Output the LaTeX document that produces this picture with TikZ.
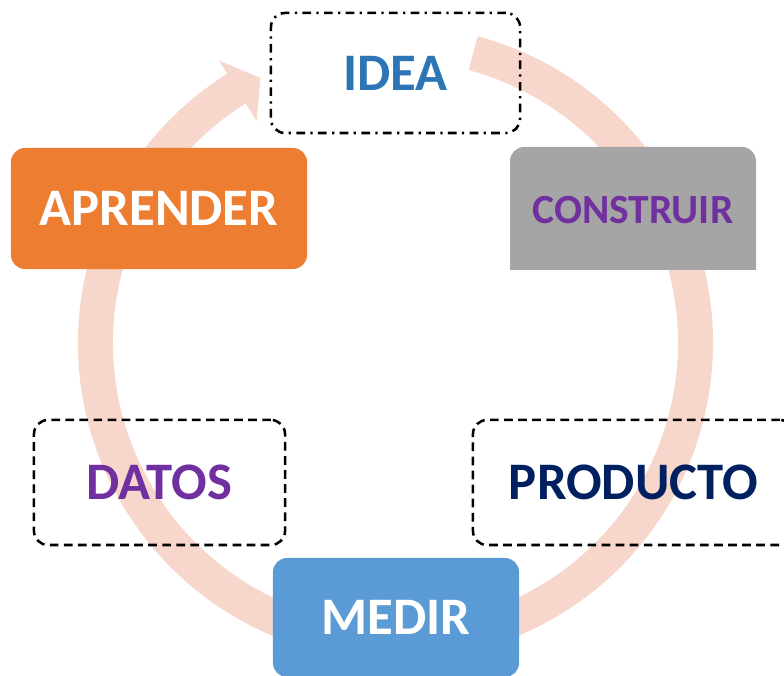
\documentclass[tikz,border=0pt]{standalone}
\usepackage{fontspec}
\setmainfont{Carlito}
\usepackage{xcolor}
\usepackage{tikz}
\usetikzlibrary{arrows}

\definecolor{ringpink}{HTML}{F7D7CC}
\definecolor{orangebox}{HTML}{ED7D31}
\definecolor{graybox}{HTML}{A5A5A5}
\definecolor{bluebox}{HTML}{5B9BD5}
\definecolor{ideablue}{HTML}{2E75B6}
\definecolor{purpletext}{HTML}{7030A0}
\definecolor{navytext}{HTML}{002060}

\begin{document}
\begin{tikzpicture}[x=0.025cm, y=0.025cm]
\tikzstyle{word} = [font=\bfseries\fontsize{37.5}{40}\selectfont, inner sep=0pt]
\tikzstyle{box} = [word, rounded corners=10pt, line width=1.8pt]
\tikzstyle{dashbox} = [box, draw=black, dash pattern=on 6.2pt off 3.8pt]
\useasboundingbox (0,0) rectangle (784,676);
\clip (0,0) rectangle (784,676);
% cycle arrow
\begin{scope}[shift={(395.5,333)}]
\fill[ringpink] (75:317.5) arc[start angle=75, end angle=-238, radius=317.5]
  -- (122:333) -- (117:297.5) -- (122:262) -- (122:282.5)
  arc[start angle=-238, end angle=75, radius=282.5] -- cycle;
\end{scope}
% gray box, rounded on top only
\fill[graybox] (510,406) [rounded corners=10pt] -- (510,529) -- (756,529) [sharp corners] -- (756,406) -- cycle;
\node[box, draw=black, dash pattern=on 6.2pt off 3.8pt on 1.6pt off 3.8pt, text=ideablue,
  minimum width=6.225cm, minimum height=3cm] (1) at (395.5,603) {IDEA};
\node[box, fill=orangebox, text=white, minimum width=7.4cm, minimum height=3.025cm] (2) at (159,467.5) {APRENDER};
\node[word, font=\bfseries\fontsize{29.5}{32}\selectfont, text=purpletext] (3) at (633,466) {CONSTRUIR};
\node[dashbox, text=purpletext, minimum width=6.275cm, minimum height=3.125cm] (4) at (159.5,193.5) {DATOS};
\node[dashbox, text=navytext, minimum width=8.025cm, minimum height=3.125cm] (5) at (633.5,193.5) {PRODUCTO};
\node[box, fill=bluebox, text=white, minimum width=6.15cm, minimum height=2.975cm] (6) at (396,58.5) {MEDIR};
\end{tikzpicture}
\end{document}
